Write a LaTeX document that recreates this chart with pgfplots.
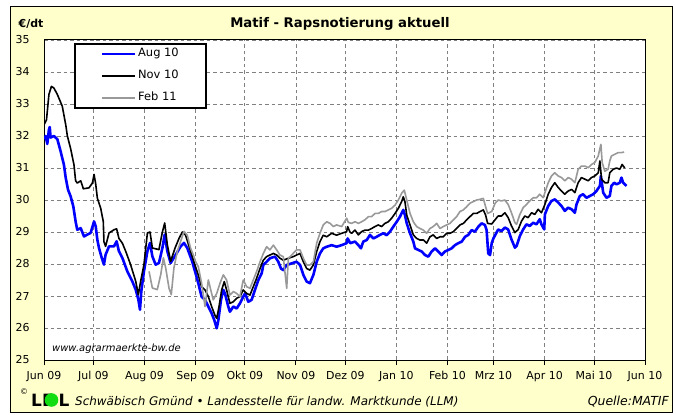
\documentclass[border=0pt]{standalone}
\usepackage{fontspec}
\setmainfont{DejaVu Sans}
\usepackage{pgfplots}
\pgfplotsset{compat=1.18}
\definecolor{bgyellow}{HTML}{FFFFCC}
\definecolor{gridgray}{HTML}{808080}
\definecolor{febgray}{HTML}{999999}
\definecolor{lelgreen}{HTML}{11DD11}
\begin{document}
\begin{tikzpicture}
\useasboundingbox (0,0) rectangle (676bp,415bp);
\begin{scope}[x=1bp,y=-1bp,yshift=415bp]
\fill[bgyellow] (10.5,6.5) rectangle (672.5,412.5);
\draw[black, line width=1bp] (10.5,6.5) rectangle (672.5,412.5);
\end{scope}
\begin{axis}[
  at={(44bp,55bp)}, anchor=south west,
  scale only axis, width=601bp, height=320bp,
  xmin=0, xmax=365, ymin=25, ymax=35,
  xtick={0,30,61,92,122,153,183,214,245,273,304,334,365},
  xticklabels={Jun 09,Jul 09,Aug 09,Sep 09,Okt 09,Nov 09,Dez 09,Jan 10,Feb 10,Mrz 10,Apr 10,Mai 10,Jun 10},
  ytick={25,26,...,35},
  grid=major,
  major grid style={gridgray, line width=0.8bp, dash pattern=on 3.5bp off 3bp},
  axis background/.style={fill=white},
  axis line style={black, line width=1bp},
  tick align=outside,
  xtick pos=lower,
  major tick length=5bp,
  xtick style={black, line width=0.9bp},
  ytick style={draw=none},
  /pgf/number format/assume math mode=true,
  ticklabel style={font=\fontsize{11}{13}\selectfont},
  yticklabel style={xshift=-6bp},
  xticklabel style={yshift=-3bp},
  legend style={at={(axis description cs:0.05,0.99)}, anchor=north west,
    draw=black, line width=2bp, fill=white,
    font=\fontsize{11.5}{13}\selectfont,
    inner xsep=26bp, inner ysep=3bp,
    nodes={inner sep=1.5bp, text height=8bp, text depth=2.5bp},
    row sep=8.5bp},
  legend cell align=left,
  legend image code/.code={\draw[#1] (0bp,0bp) -- (33bp,0bp);},
]
\addplot[blue, line width=2.6bp, line join=round] coordinates {
(0,31.9)(1,32.0)(2,31.75)(3,32.2)(3.5,32.28)(4,31.95)(6,32.0)(8.1,31.9)(10.1,31.52)(12.1,31.1)
(13.2,30.69)(14.6,30.32)(16.2,30.11)(17.8,29.8)(19.2,29.33)(20.2,29.07)(22.3,29.12)(24.3,28.86)
(26.3,28.92)(28.3,28.97)(30.4,29.33)(31.4,29.18)(32.4,28.76)(33.4,28.5)(34.8,28.24)(36.4,27.98)
(37.4,28.29)(39.5,28.55)(42.5,28.55)(44.1,28.71)(45.5,28.4)(47.6,28.19)(50.6,27.77)(53.6,27.46)
(55.7,27.2)(57.3,26.89)(58.3,26.57)(59.1,27.15)(60.7,27.77)(62.8,28.4)(64.4,28.66)(65.8,28.24)
(67.8,27.98)(69.8,28.03)(71.9,28.5)(73.3,28.92)(74.9,28.4)(76.9,28.03)(80,28.29)(83,28.55)
(85,28.66)(87,28.5)(90,28.08)(92.1,27.7)(93.7,27.4)(95.7,26.98)(97.8,26.88)(99.8,26.67)
(101.8,26.46)(103.4,26.25)(104.9,25.99)(105.9,26.25)(107.5,26.88)(108.9,27.19)(109.9,27.08)
(111.9,26.67)(112.9,26.51)(115,26.67)(117,26.61)(119,26.77)(121,26.98)(122.1,27.08)(124.1,26.82)
(126.1,26.88)(128.1,27.19)(130.2,27.5)(132.2,27.71)(133.2,27.97)(135.2,28.07)(137.2,28.18)
(140.3,28.23)(142.3,28.07)(143.9,27.86)(145.3,27.81)(147.4,27.97)(150.4,28.02)(153.4,28.07)
(155.5,27.97)(157.5,27.66)(159.5,27.45)(161.5,27.4)(163.6,27.66)(165.6,28.07)(167.6,28.33)
(169.6,28.49)(171.7,28.54)(174.7,28.59)(177.7,28.54)(180.8,28.59)(183.8,28.65)(184.4,28.8)
(186,28.65)(188.9,28.7)(190.9,28.59)(192.5,28.49)(193.9,28.7)(196,28.75)(198,28.91)(200,28.8)
(202,28.85)(204,28.91)(206.1,28.96)(208.1,28.9)(210.1,29.01)(212.2,29.17)(214.2,29.32)
(216.2,29.48)(218.2,29.69)(219.2,29.53)(220.3,29.27)(222.3,28.96)(224.3,28.7)(225.3,28.49)
(227.3,28.44)(229.4,28.39)(231.4,28.28)(233.4,28.23)(235.4,28.39)(237.5,28.49)(239.5,28.39)
(241.5,28.28)(243.5,28.39)(245.6,28.44)(247.6,28.49)(249.6,28.59)(251.6,28.65)(253.7,28.7)
(255.7,28.85)(257.7,28.91)(259.7,29.06)(261.7,29.01)(263.8,29.17)(265.8,29.27)(267.8,29.22)
(268.8,29.06)(269.8,28.33)(270.9,28.28)(271.9,28.65)(272.9,28.8)(274,28.9)(275.8,29.08)
(277.8,29.03)(279.9,29.14)(281.9,29.08)(283.9,28.77)(286,28.51)(287,28.56)(289,28.875)
(291,29.08)(293,29.24)(295,29.19)(297.1,29.29)(299.1,29.24)(301.1,29.4)(302.1,29.24)
(303.8,29.08)(304.2,29.55)(306.2,29.81)(308.2,29.97)(310.2,30.02)(312.3,29.92)(314.3,29.81)
(316.3,29.66)(318.3,29.76)(320.4,29.71)(322.4,29.6)(323.4,29.86)(325.4,30.125)(327.4,30.18)
(329.5,30.07)(331.5,30.125)(333.5,30.18)(335.5,30.28)(337.6,30.44)(338.2,30.75)(339.6,30.23)
(341.6,30.07)(343.6,30.125)(344.6,30.44)(346.3,30.54)(347.7,30.49)(349.7,30.54)(350.7,30.7)
(351.7,30.54)(353.8,30.44)
};
\addlegendentry{Aug 10}
\addplot[black, line width=1.6bp, line join=round] coordinates {
(0,32.35)(1.5,32.5)(3,33.3)(4.5,33.55)(6,33.5)(8.1,33.3)(11.1,32.93)(13.2,32.35)(14.2,32.0)
(16.2,31.6)(18.2,31.1)(19.2,30.6)(20.2,30.53)(22.3,30.6)(23.9,30.35)(27.3,30.38)(29.4,30.53)
(30.4,30.8)(31.4,30.5)(32.4,30.06)(34.4,29.75)(36,29.33)(36.4,28.7)(37.4,28.55)(39.5,28.97)
(42.5,29.07)(44.1,29.1)(45.5,28.8)(47.6,28.65)(49.6,28.4)(52.6,27.98)(55.7,27.46)(57.3,27.04)
(58.7,27.46)(60.7,27.98)(62.8,28.97)(64.4,29.0)(65.8,28.5)(69.8,28.45)(71.9,29.0)(73.3,29.28)
(74.9,28.6)(76.9,28.08)(79.6,28.5)(82,28.8)(84,29.0)(86,28.9)(89,28.4)(92.1,27.9)(93.7,27.66)
(95.7,27.29)(97.8,27.19)(99.8,26.98)(101.8,26.67)(103.8,26.4)(104.9,26.3)(106.3,26.67)
(107.9,27.19)(109.5,27.45)(110.9,27.19)(112.9,26.77)(115,26.82)(117,26.93)(119,26.98)
(121,27.19)(123.1,27.08)(125.1,27.03)(127.1,27.29)(129.1,27.55)(131.2,27.86)(133.2,28.12)
(135.2,28.23)(137.2,28.28)(139.3,28.33)(141.3,28.28)(143.3,28.18)(145.3,28.12)(148.4,28.18)
(151.4,28.23)(153.4,28.28)(155.5,28.33)(157.5,28.07)(159.5,27.86)(161.5,27.81)(163.6,27.97)
(165.6,28.39)(167.6,28.7)(169.6,28.9)(171.7,28.85)(174.7,28.96)(177.7,28.9)(180.8,28.96)
(183.8,29.01)(184.4,29.17)(185.8,29.0)(186.8,28.96)(188.9,29.06)(190.9,28.91)(192.9,29.01)
(194.9,29.06)(197,29.06)(199,29.11)(201,29.17)(203,29.22)(205.1,29.17)(207.1,29.27)(209.1,29.32)
(211.1,29.43)(213.2,29.58)(215.2,29.74)(217.2,29.95)(218.2,30.1)(219.2,29.95)(220.3,29.53)
(222.3,29.22)(224.3,28.91)(226.3,28.8)(228.3,28.75)(230.4,28.75)(232.4,28.65)(234.4,28.85)
(236.4,28.91)(238.5,28.8)(240.5,28.85)(242.5,28.85)(244.5,28.96)(246.6,28.96)(248.6,29.01)
(250.6,29.11)(252.6,29.22)(254.7,29.27)(256.7,29.38)(258.7,29.48)(260.7,29.58)(262.8,29.58)
(264.8,29.64)(266.8,29.69)(268.2,29.53)(269.4,29.27)(271.9,29.25)(273.9,29.38)(275.8,29.5)
(277.8,29.5)(279.9,29.6)(281.9,29.45)(283.9,29.19)(286,28.98)(288,29.08)(290,29.34)(292,29.5)
(294,29.45)(296.1,29.6)(298.1,29.55)(300.1,29.71)(302.1,29.6)(304.2,29.86)(306.2,30.18)
(308.2,30.39)(310.2,30.54)(312.3,30.39)(314.3,30.28)(316.3,30.18)(318.3,30.28)(320.4,30.33)
(322.4,30.23)(324.4,30.54)(326.4,30.7)(328.5,30.65)(330.5,30.6)(332.5,30.7)(334.5,30.75)
(336.6,30.85)(337.6,31.22)(338.6,30.65)(340.6,30.54)(342.6,30.54)(343.6,30.85)(345.7,30.96)
(347.7,31.0)(349.7,30.96)(351.1,31.11)(352.7,31.0)
};
\addlegendentry{Nov 10}
\addplot[febgray, line width=1.6bp, line join=round] coordinates {
(63.8,27.77)(65.8,27.25)(68.8,27.2)(70.9,27.67)(72.5,28.19)(73.9,27.88)(75.9,27.25)(77.3,27.04)
(78.9,27.88)(81,28.4)(83,28.71)(85,29.02)(87,28.9)(89,28.5)(91,28.24)(92.1,28.07)(93.7,27.92)
(95.7,27.4)(97.8,26.67)(99.8,27.5)(101.8,27.08)(102.8,26.88)(104.9,27.08)(106.9,27.4)
(108.9,27.66)(110.9,27.5)(112.9,27.03)(115,27.14)(117,27.08)(119,26.98)(121,27.5)(123.1,27.29)
(125.1,27.24)(127.1,27.5)(129.1,27.76)(131.2,28.07)(133.2,28.33)(135.2,28.54)(137.2,28.44)
(139.3,28.59)(141.3,28.44)(143.3,28.28)(145.3,28.23)(147.4,27.24)(148.4,28.18)(150.4,28.28)
(153.4,28.44)(155.5,28.44)(157.5,28.18)(159.5,27.97)(161.5,27.97)(163.6,28.07)(165.6,28.65)
(167.6,28.96)(169.6,29.22)(171.7,29.32)(173.7,29.27)(175.7,29.17)(177.7,29.22)(180.8,29.17)
(183.8,29.43)(184.8,29.3)(186.8,29.27)(188.9,29.32)(190.9,29.27)(192.9,29.32)(194.9,29.38)
(197,29.48)(199,29.48)(201,29.58)(203,29.58)(205.1,29.64)(207.1,29.64)(209.1,29.69)(211.1,29.74)
(213.2,29.84)(215.2,30.0)(217.2,30.21)(218.8,30.31)(220.3,30.0)(222.3,29.58)(224.3,29.32)
(226.3,29.17)(228.3,29.11)(230.4,29.06)(232.4,28.96)(234.4,29.11)(236.4,29.17)(238.5,29.27)
(240.5,29.11)(242.5,29.17)(244.5,29.22)(246.6,29.27)(248.6,29.38)(250.6,29.48)(252.6,29.64)
(254.7,29.69)(256.7,29.79)(258.7,29.9)(260.7,29.95)(262.8,30.0)(264.8,30.02)(266.8,30.05)
(268.2,29.79)(269.4,29.58)(271.9,29.64)(274,29.9)(275.8,30.0)(277.8,29.97)(279.9,30.0)
(281.9,29.86)(283.9,29.6)(286,29.29)(287,29.24)(289,29.55)(291,29.76)(293,29.86)(295,29.97)
(297.1,30.07)(299.1,30.07)(301.1,30.18)(303.2,30.07)(304.2,30.23)(306.2,30.54)(308.2,30.75)
(310.2,30.85)(312.3,30.75)(314.3,30.7)(316.3,30.6)(318.3,30.7)(320.4,30.65)(322.4,30.54)
(324.4,30.96)(326.4,31.06)(328.5,31.06)(330.5,31.01)(332.5,31.11)(334.5,31.17)(336.6,31.375)
(338.2,31.74)(339,31.17)(340.6,30.9)(342.6,30.96)(343.6,31.22)(344.6,31.375)(346.7,31.43)
(348.7,31.48)(350.7,31.48)(352.3,31.5)
};
\addlegendentry{Feb 11}
\end{axis}
\begin{scope}[x=1bp,y=-1bp,yshift=415bp]
\node[font=\bfseries\fontsize{11}{13}\selectfont] at (31,24) {€/dt};
\node[font=\bfseries\fontsize{13.3}{15}\selectfont] at (340,24) {Matif - Rapsnotierung aktuell};
\node[anchor=west, inner sep=0pt, font=\itshape\fontsize{10}{12}\selectfont] at (52,349) {www.agrarmaerkte-bw.de};
\node[font=\fontsize{8}{9}\selectfont, inner sep=0pt] at (24,392) {©};
\node[font=\bfseries\fontsize{17}{17}\selectfont, inner sep=0pt] at (36.5,400.5) {L};
\node[font=\bfseries\fontsize{17}{17}\selectfont, inner sep=0pt] at (48,400.5) {E};
\fill[lelgreen] (51.5,400) circle (6.8);
\node[font=\bfseries\fontsize{17}{17}\selectfont, inner sep=0pt] at (64,400.5) {L};
\node[anchor=west, inner sep=0pt, font=\itshape\fontsize{12}{14}\selectfont] at (75,402) {Schwäbisch Gmünd • Landesstelle für landw. Marktkunde (LLM)};
\node[anchor=east, inner sep=0pt, font=\itshape\fontsize{12.5}{14}\selectfont] at (669,402) {Quelle:MATIF};
\end{scope}
\end{tikzpicture}
\end{document}
